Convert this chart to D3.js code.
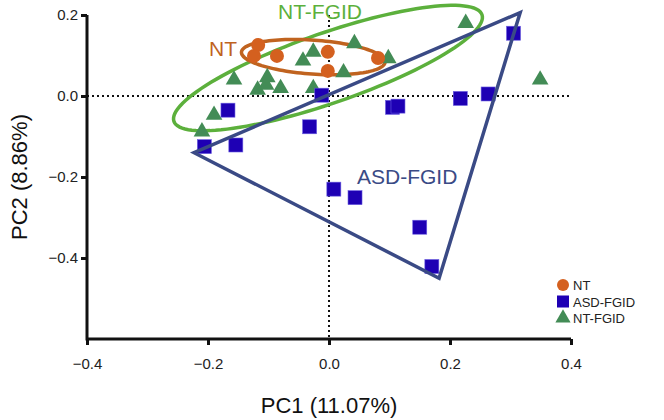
<!DOCTYPE html>
<html><head><meta charset="utf-8">
<script src="https://cdn.jsdelivr.net/npm/d3@7"></script>
<style>body{margin:0;background:#fff}svg{display:block}text{font-family:"Liberation Sans",Arial,sans-serif}</style>
</head><body><svg id="c" width="664" height="420"></svg>
<script>
// ---- data ----
const ntPoints = [[-0.117,0.126],[-0.124,0.099],[-0.086,0.099],[-0.002,0.109],[-0.002,0.062],[0.081,0.094]];
const asdPoints = [[-0.167,-0.035],[-0.206,-0.125],[-0.154,-0.121],[-0.032,-0.076],[-0.012,0.002],[0.008,-0.230],[0.043,-0.251],[0.150,-0.324],[0.170,-0.421],[0.105,-0.028],[0.114,-0.025],[0.217,-0.006],[0.263,0.005],[0.305,0.155]];
const ntfgidPoints = [[-0.210,-0.088],[-0.190,-0.047],[-0.157,0.040],[-0.118,0.015],[-0.104,0.027],[-0.102,0.046],[-0.080,0.019],[-0.043,0.087],[-0.026,0.109],[-0.026,0.019],[0.024,0.058],[0.042,0.130],[0.098,0.093],[0.226,0.180],[0.349,0.040]];
const asdHull = [[-0.223,-0.140],[0.316,0.206],[0.182,-0.450]];
// ellipses: center, semi-axis vector a, semi-axis vector b (data units)
const ntEllipse = {c:[-0.026,0.096], a:[0.1187,-0.0124], b:[-0.0020,-0.0419]};
const ntfgidEllipse = {c:[-0.0017,0.069], a:[0.2546,0.1316], b:[0.0189,-0.0817]};
const xTicks = [-0.4,-0.2,0.0,0.2,0.4];
const yTicks = [0.2,0.0,-0.2,-0.4];
const legendLabels = ["NT","ASD-FGID","NT-FGID"];

const cOrange="#d4601f", cOrangeLine="#c0631f", cBlue="#1e00b4", cHull="#3a4a85", cGreen="#438c56", cGreenLine="#5cb03c";

const svg=d3.select("#c");
const x=d3.scaleLinear().domain([-0.4,0.4]).range([87,571]);
const y=d3.scaleLinear().domain([-0.6,0.2]).range([339,15]);

// zero lines
svg.append("line").attr("x1",x(-0.4)).attr("x2",x(0.4)).attr("y1",y(0)).attr("y2",y(0))
  .attr("stroke","#111").attr("stroke-width",2).attr("stroke-dasharray","2,3");
svg.append("line").attr("x1",x(0)).attr("x2",x(0)).attr("y1",y(0.2)).attr("y2",y(-0.6))
  .attr("stroke","#111").attr("stroke-width",2).attr("stroke-dasharray","2,3");

// axes
const xAxis=svg.append("g").attr("transform",`translate(0,${y(-0.6)})`)
  .call(d3.axisBottom(x).tickValues(xTicks).tickFormat(d3.format(".1f")).tickSizeOuter(0).tickSize(6));
const yAxis=svg.append("g").attr("transform",`translate(${x(-0.4)},0)`)
  .call(d3.axisLeft(y).tickValues(yTicks).tickFormat(d3.format(".1f")).tickSizeOuter(0).tickSize(6));
[xAxis,yAxis].forEach(g=>{
  g.select(".domain").attr("stroke","#111").attr("stroke-width",3);
  g.selectAll(".tick line").attr("stroke","#111").attr("stroke-width",3);
  g.selectAll(".tick text").attr("fill","#222").style("font-size","15px").style("font-family","Liberation Sans, Arial, sans-serif");
});
xAxis.selectAll(".tick text").attr("dy","1.4em");
yAxis.selectAll(".tick text").attr("x",-9);
xAxis.select(".domain").attr("d",`M${x(-0.4)},0H${x(0.4)}`);
yAxis.select(".domain").attr("d",`M0,${y(0.2)}V${y(-0.6)+1.5}`);

// ellipse path
function ellipsePath(e){
  const pts=d3.range(0,361,3).map(t=>{const r=t*Math.PI/180;
    return [x(e.c[0]+Math.cos(r)*e.a[0]+Math.sin(r)*e.b[0]), y(e.c[1]+Math.cos(r)*e.a[1]+Math.sin(r)*e.b[1])];});
  return d3.line().curve(d3.curveLinearClosed)(pts);
}
svg.append("path").attr("d",ellipsePath(ntfgidEllipse)).attr("fill","none").attr("stroke",cGreenLine).attr("stroke-width",3.5);
svg.append("path").attr("d",ellipsePath(ntEllipse)).attr("fill","none").attr("stroke",cOrangeLine).attr("stroke-width",3.5);

// markers
const tri=d3.symbol().type(d3.symbolTriangle).size(120);
svg.append("g").selectAll("path").data(ntfgidPoints).join("path")
  .attr("d",tri).attr("transform",d=>`translate(${x(d[0])},${y(d[1])})`).attr("fill",cGreen);
svg.append("g").selectAll("rect").data(asdPoints).join("rect")
  .attr("x",d=>x(d[0])-7).attr("y",d=>y(d[1])-7).attr("width",14).attr("height",14)
  .attr("fill",cBlue).attr("stroke","#6a5ce0").attr("stroke-width",0.6);
svg.append("g").selectAll("circle").data(ntPoints).join("circle")
  .attr("cx",d=>x(d[0])).attr("cy",d=>y(d[1])).attr("r",7).attr("fill",cOrange);

// hull
svg.append("path").attr("d",d3.line().curve(d3.curveLinearClosed)(asdHull.map(d=>[x(d[0]),y(d[1])])))
  .attr("fill","none").attr("stroke",cHull).attr("stroke-width",3.5).attr("stroke-linejoin","miter");

// group labels
svg.append("text").attr("x",209).attr("y",56).attr("fill",cOrangeLine).style("font-size","21px").text("NT");
svg.append("text").attr("x",278).attr("y",19).attr("fill",cGreenLine).style("font-size","21px").text("NT-FGID");
svg.append("text").attr("x",357).attr("y",184).attr("fill",cHull).style("font-size","21px").text("ASD-FGID");

// axis titles
svg.append("text").attr("x",x(0)).attr("y",413).attr("text-anchor","middle").attr("fill","#111").style("font-size","22px").text("PC1 (11.07%)");
svg.append("text").attr("transform",`translate(27,${(y(0.2)+y(-0.6))/2}) rotate(-90)`).attr("text-anchor","middle").attr("fill","#111").style("font-size","22px").text("PC2 (8.86%)");

// legend
const lg=svg.append("g").attr("transform","translate(563,285)");
const legendColors=[cOrange,cBlue,cGreen];
legendLabels.forEach((lab,i)=>{
  const g=lg.append("g").attr("transform",`translate(0,${i*16.5})`);
  if(i===0) g.append("circle").attr("r",6).attr("fill",legendColors[i]);
  else if(i===1) g.append("rect").attr("x",-6).attr("y",-6).attr("width",12).attr("height",12).attr("fill",legendColors[i]);
  else g.append("path").attr("d",d3.symbol().type(d3.symbolTriangle).size(100)).attr("fill",legendColors[i]);
  g.append("text").attr("x",10).attr("y",5).attr("fill","#222").style("font-size","13px").text(lab);
});
</script></body></html>
